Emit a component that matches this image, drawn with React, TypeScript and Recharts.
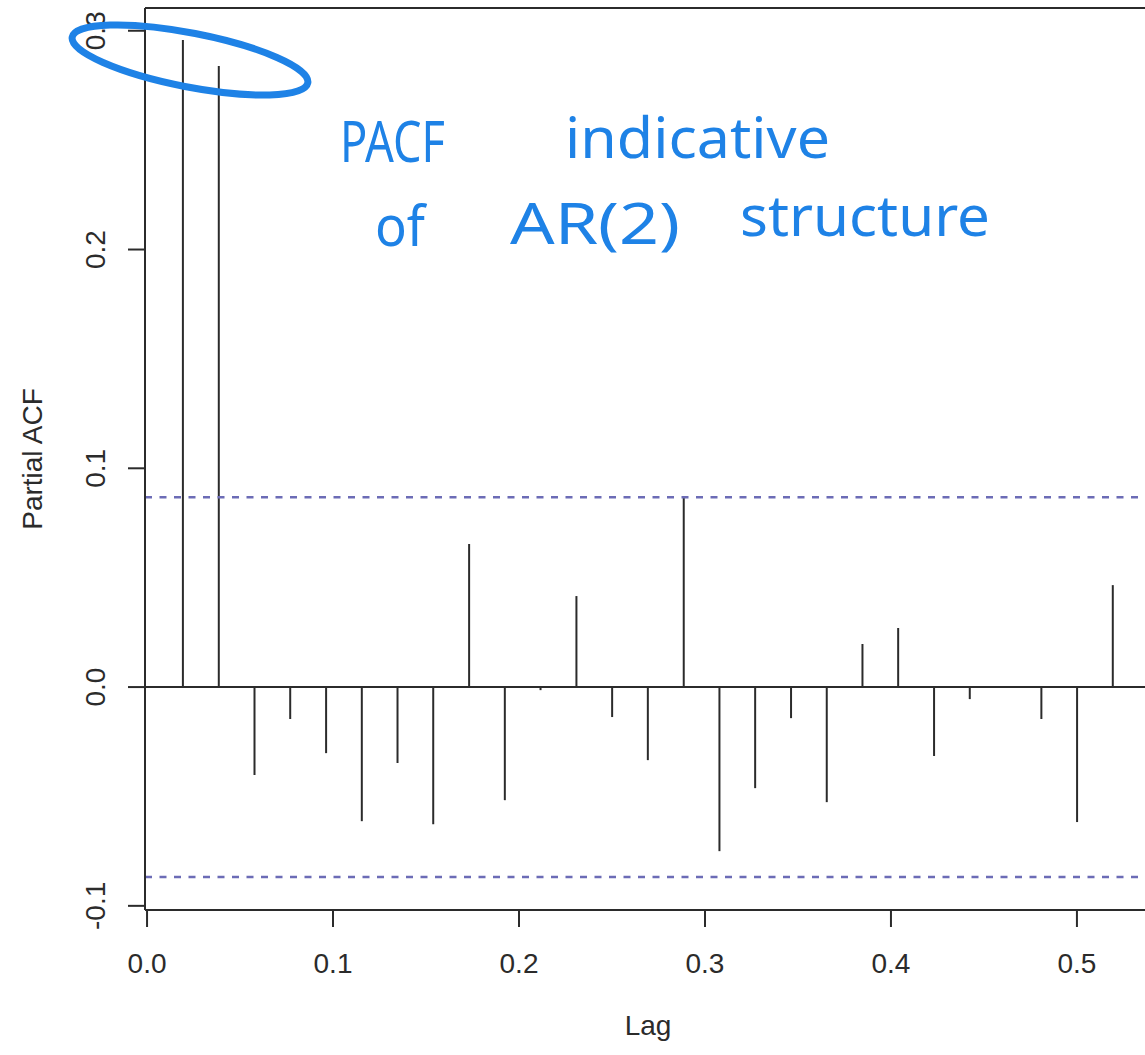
import React from "react";
import {
  ComposedChart,
  Bar,
  XAxis,
  YAxis,
  ReferenceLine,
} from "recharts";

// lags in years (weekly series, k/52)
const lags = [
  0.0192, 0.0385, 0.0577, 0.0769, 0.0962, 0.1154, 0.1346, 0.1538, 0.1731,
  0.1923, 0.2115, 0.2308, 0.25, 0.2692, 0.2885, 0.3077, 0.3269, 0.3462,
  0.3654, 0.3846, 0.4038, 0.4231, 0.4423, 0.4615, 0.4808, 0.5, 0.5192,
];

const pacf = [
  0.2958, 0.2839, -0.0402, -0.0146, -0.0302, -0.0613, -0.0347, -0.0627,
  0.0654, -0.0517, -0.0014, 0.0416, -0.0137, -0.0334, 0.0869, -0.075,
  -0.0462, -0.0142, -0.0526, 0.0197, 0.027, -0.0315, -0.0055, 0.0005,
  -0.0146, -0.0617, 0.0466,
];

const xTicks = [0, 0.1, 0.2, 0.3, 0.4, 0.5];
const yTicks = [-0.1, 0, 0.1, 0.2, 0.3];
const ciBound = 0.0868;

const X_DOMAIN: [number, number] = [-0.0011, 0.5366];
const Y_DOMAIN: [number, number] = [-0.1019, 0.3104];

const data = lags.map((lag, i) => ({ lag, pacf: pacf[i] }));

const FONT = "'Liberation Sans', Arial, Helvetica, sans-serif";
const INK = "#2b2b2b";
const PEN = "#1e82e6";

const YTick = (props: any) => {
  const { x, y, payload } = props;
  return (
    <text
      x={x}
      y={y}
      transform={`rotate(-90, ${x}, ${y})`}
      textAnchor="middle"
      fontFamily={FONT}
      fontSize={28}
      fill={INK}
    >
      {payload.value.toFixed(1)}
    </text>
  );
};

const App = () => {
  return (
    <div
      style={{
        position: "absolute",
        left: 0,
        top: 0,
        width: 1145,
        height: 1055,
        background: "#fff",
      }}
    >
      <ComposedChart
        width={1145}
        height={1055}
        data={data}
        margin={{ top: 8, right: 0, bottom: 0, left: 0 }}
      >
        <XAxis
          type="number"
          dataKey="lag"
          domain={X_DOMAIN}
          allowDataOverflow
          ticks={xTicks}
          tickFormatter={(v: number) => v.toFixed(1)}
          height={145}
          tickSize={17}
          tickMargin={26}
          stroke={INK}
          strokeWidth={2}
          tick={{ fill: INK, fontSize: 28, fontFamily: FONT }}
          label={{
            content: (p: any) => (
              <text
                x={p.viewBox.x + p.viewBox.width / 2 + 3}
                y={p.viewBox.y + 125}
                textAnchor="middle"
                fontFamily={FONT}
                fontSize={28}
                fill={INK}
              >
                Lag
              </text>
            ),
          }}
        />
        <YAxis
          type="number"
          domain={Y_DOMAIN}
          allowDataOverflow
          ticks={yTicks}
          width={145}
          tickSize={17}
          tickMargin={23}
          stroke={INK}
          strokeWidth={2}
          tick={<YTick />}
          label={{
            content: (p: any) => {
              const cx = p.viewBox.x + 42;
              const cy = p.viewBox.y + p.viewBox.height / 2;
              return (
                <text
                  x={cx}
                  y={cy}
                  transform={`rotate(-90, ${cx}, ${cy})`}
                  textAnchor="middle"
                  fontFamily={FONT}
                  fontSize={28}
                  fill={INK}
                >
                  Partial ACF
                </text>
              );
            },
          }}
        />
        <ReferenceLine y={Y_DOMAIN[1]} stroke={INK} strokeWidth={2} />
        <ReferenceLine y={0} stroke={INK} strokeWidth={2} />
        <ReferenceLine
          y={ciBound}
          stroke="#6c6cb6"
          strokeWidth={2.5}
          strokeDasharray="7 7.5"
        />
        <ReferenceLine
          y={-ciBound}
          stroke="#6c6cb6"
          strokeWidth={2.5}
          strokeDasharray="7 7.5"
        />
        <Bar
          dataKey="pacf"
          barSize={2}
          fill={INK}
          isAnimationActive={false}
        />
      </ComposedChart>

      {/* handwritten annotation */}
      <svg
        width={1145}
        height={1055}
        style={{ position: "absolute", left: 0, top: 0, pointerEvents: "none" }}
      >
        <ellipse
          cx={190}
          cy={60}
          rx={120}
          ry={27}
          transform="rotate(11, 190, 60)"
          fill="none"
          stroke={PEN}
          strokeWidth={7}
        />
        <g fill={PEN} fontFamily="'Noto Sans', sans-serif" fontSize={56}>
          <text x={340} y={162} textLength={105} lengthAdjust="spacingAndGlyphs">
            PACF
          </text>
          <text x={565} y={158} textLength={265} lengthAdjust="spacingAndGlyphs">
            indicative
          </text>
          <text x={375} y={246} textLength={50} lengthAdjust="spacingAndGlyphs">
            of
          </text>
          <text x={510} y={244} textLength={170} lengthAdjust="spacingAndGlyphs">
            AR(2)
          </text>
          <text x={740} y={236} textLength={250} lengthAdjust="spacingAndGlyphs">
            structure
          </text>
        </g>
      </svg>
    </div>
  );
};

export default App;
